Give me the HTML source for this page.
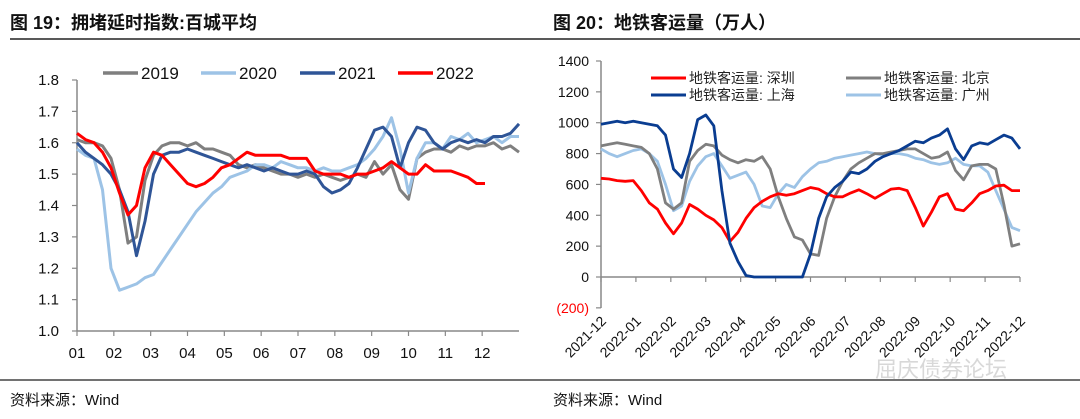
<!DOCTYPE html>
<html><head><meta charset="utf-8"><style>
body{margin:0;width:1080px;height:419px;background:#fff;overflow:hidden;font-family:"Liberation Sans","Noto Sans CJK SC",sans-serif;}
svg{position:absolute;left:0;top:0}
</style></head><body>
<svg width="1080" height="419" viewBox="0 0 1080 419" xmlns="http://www.w3.org/2000/svg">
<g id="static" font-family="Liberation Sans, Noto Sans CJK SC, sans-serif">
<text x="10" y="29" font-size="18" font-weight="bold" fill="#111">图 19：拥堵延时指数:百城平均</text>
<text x="553" y="29" font-size="18" font-weight="bold" fill="#111">图 20：地铁客运量（万人）</text>
<line x1="10" y1="39" x2="1080" y2="39" stroke="#222" stroke-width="1.5"/>
<line x1="0" y1="380" x2="1080" y2="380" stroke="#444" stroke-width="1.5"/>
<text x="10" y="405" font-size="15" fill="#111">资料来源：Wind</text>
<text x="553" y="405" font-size="15" fill="#111">资料来源：Wind</text>
<text x="875" y="377" font-size="22" fill="#c8c8c8" opacity="0.7">屈庆债券论坛</text>
</g>
<g id="left"></g>
<g id="right"></g>
</svg>
<script>
const NS="http://www.w3.org/2000/svg";
function mk(parent,tag,attrs,text){const e=document.createElementNS(NS,tag);for(const k in attrs)e.setAttribute(k,attrs[k]);if(text!==undefined)e.textContent=text;parent.appendChild(e);return e;}

// ---------- Left chart data ----------
const leftMonths=["01","02","03","04","05","06","07","08","09","10","11","12"];
const leftYTicks=[1.0,1.1,1.2,1.3,1.4,1.5,1.6,1.7,1.8];
const leftSeriesNames=["2019","2020","2021","2022"];
const y2019=[1.61,1.60,1.60,1.59,1.55,1.45,1.28,1.30,1.48,1.56,1.59,1.60,1.60,1.59,1.60,1.58,1.58,1.57,1.56,1.53,1.52,1.53,1.52,1.51,1.50,1.50,1.49,1.50,1.49,1.50,1.49,1.48,1.49,1.50,1.49,1.54,1.50,1.53,1.45,1.42,1.55,1.57,1.58,1.58,1.57,1.59,1.58,1.59,1.59,1.60,1.58,1.59,1.57];
const y2020=[1.58,1.56,1.55,1.45,1.20,1.13,1.14,1.15,1.17,1.18,1.22,1.26,1.30,1.34,1.38,1.41,1.44,1.46,1.49,1.50,1.51,1.53,1.53,1.52,1.54,1.53,1.52,1.52,1.51,1.52,1.51,1.51,1.52,1.53,1.55,1.58,1.62,1.68,1.58,1.44,1.55,1.60,1.60,1.58,1.62,1.61,1.63,1.60,1.61,1.62,1.60,1.62,1.62];
const y2021=[1.60,1.57,1.55,1.53,1.50,1.45,1.38,1.24,1.35,1.50,1.56,1.57,1.57,1.58,1.57,1.56,1.55,1.54,1.53,1.52,1.53,1.52,1.51,1.52,1.51,1.50,1.50,1.51,1.50,1.46,1.44,1.45,1.47,1.52,1.58,1.64,1.65,1.62,1.52,1.60,1.65,1.64,1.60,1.58,1.60,1.61,1.60,1.61,1.60,1.62,1.62,1.63,1.66];
const y2022=[1.63,1.61,1.60,1.57,1.52,1.44,1.37,1.40,1.52,1.57,1.56,1.53,1.50,1.47,1.46,1.47,1.49,1.52,1.53,1.55,1.57,1.56,1.56,1.56,1.56,1.55,1.55,1.55,1.51,1.50,1.50,1.50,1.49,1.50,1.50,1.51,1.52,1.54,1.52,1.50,1.50,1.53,1.51,1.51,1.51,1.50,1.49,1.47,1.47];

// ---------- Right chart data ----------
const rightMonths=["2021-12","2022-01","2022-02","2022-03","2022-04","2022-05","2022-06","2022-07","2022-08","2022-09","2022-10","2022-11","2022-12"];
const rightYTicks=[-200,0,200,400,600,800,1000,1200,1400];
const rightSeriesNames=["地铁客运量: 深圳","地铁客运量: 北京","地铁客运量: 上海","地铁客运量: 广州"];
const shenzhen=[640,635,625,620,625,560,480,440,350,280,350,470,440,400,370,320,230,290,380,450,490,520,540,530,540,560,580,570,540,520,520,545,565,540,510,540,570,575,560,450,330,420,520,540,440,430,480,540,560,590,595,560,560];
const beijing=[850,860,870,860,850,840,800,700,480,440,480,750,820,860,850,790,760,740,760,750,780,700,520,380,260,240,150,140,380,520,620,700,740,770,800,800,810,820,830,830,800,770,780,810,690,630,720,730,730,700,470,200,215];
const shanghai=[990,1000,1010,1000,1010,1000,990,980,920,700,645,800,1020,1050,980,560,220,100,10,0,0,0,0,0,0,0,150,380,520,580,620,680,670,700,750,780,800,820,850,880,870,900,920,960,830,760,850,870,860,890,920,900,830];
const guangzhou=[830,800,780,800,820,830,800,750,600,430,460,620,720,780,800,720,640,660,680,600,460,450,540,600,580,650,700,740,750,770,780,790,800,810,800,790,800,800,790,770,760,740,730,740,770,730,720,720,680,560,440,320,300,360];

// ---------- Left chart ----------
const L=document.getElementById('left');
const lx0=77,lx1=519,ly0=331,ly1=80;
const lxScale=w=>lx0+(lx1-lx0)*w/52;
const lyScale=v=>ly0-(v-1.0)/(0.8)*(ly0-ly1);
mk(L,'line',{x1:lx0,y1:ly1,x2:lx0,y2:ly0,stroke:'#888','stroke-width':1.5,});
mk(L,'line',{x1:lx0,y1:ly0,x2:lx1,y2:ly0,stroke:'#888','stroke-width':1.5,});
leftYTicks.forEach(t=>{const y=lyScale(t);
 mk(L,'line',{x1:lx0-5,y1:y,x2:lx0,y2:y,stroke:'#888','stroke-width':1.2});
 const e=mk(L,'text',{x:59,y:y+5,'font-size':15,'text-anchor':'end',fill:'#111'},t.toFixed(1));
 
 
});
leftMonths.forEach((m,i)=>{const x=lx0+(lx1-lx0)*i/12;
 mk(L,'line',{x1:x,y1:ly0,x2:x,y2:ly0+5,stroke:'#888','stroke-width':1.2});
 const e=mk(L,'text',{x:x,y:358,'font-size':15,'text-anchor':'middle',fill:'#111'},m);
 
 
});
const leftData=[y2019,y2020,y2021,y2022];
const leftColors=['#7f7f7f','#9dc3e6','#2f5597','#ff0000'];
leftData.forEach((arr,si)=>{
 const d=arr.map((v,i)=>(i?'L':'M')+lxScale(i).toFixed(1)+','+lyScale(v).toFixed(1)).join(' ');
 const p=mk(L,'path',{d:d,fill:'none',stroke:leftColors[si],'stroke-width':3,'stroke-linejoin':'round'});
 
 
});
const legX=[103,201,300,398];
leftSeriesNames.forEach((n,i)=>{
 const g=mk(L,'g',{});
 
 
 mk(g,'line',{x1:legX[i],y1:73,x2:legX[i]+35,y2:73,stroke:leftColors[i],'stroke-width':3.5});
 mk(g,'text',{x:legX[i]+38,y:79,'font-size':17,fill:'#111'},n);
});

// ---------- Right chart ----------
const R=document.getElementById('right');
const rx0=601,rx1=1020,rTop=61,rBot=308;
const ryScale=v=>277-v*(277-61)/1400;
const rxScale=i=>rx0+(rx1-rx0)*i/52;
mk(R,'line',{x1:rx0,y1:rTop,x2:rx0,y2:rBot,stroke:'#888','stroke-width':1.5,});
mk(R,'line',{x1:rx0,y1:ryScale(0),x2:rx1,y2:ryScale(0),stroke:'#888','stroke-width':1.5,});
rightYTicks.forEach(t=>{const y=ryScale(t);
 mk(R,'line',{x1:rx0-5,y1:y,x2:rx0,y2:y,stroke:'#888','stroke-width':1.2});
 const e=mk(R,'text',{x:589,y:y+5,'font-size':14,'text-anchor':'end',fill:t<0?'#ff0000':'#111'},t<0?'('+(-t)+')':String(t));
 
 
});
rightMonths.forEach((m,i)=>{const x=rx0+(rx1-rx0)*i/12;
 mk(R,'line',{x1:x,y1:277,x2:x,y2:282,stroke:'#888','stroke-width':1.2});
 const ax=x+6, ay=322;
 const e=mk(R,'text',{x:ax,y:ay,'font-size':14,'text-anchor':'end',fill:'#111',transform:'rotate(-45 '+ax+' '+ay+')'},m);
 
 
});
const rightData=[shenzhen,beijing,shanghai,guangzhou];
const rightColors=['#ff0000','#7f7f7f','#0a3d91','#9dc3e6'];
[3,1,0,2].forEach(si=>{
 const arr=rightData[si];
 const d=arr.slice(0,53).map((v,i)=>(i?'L':'M')+rxScale(i).toFixed(1)+','+ryScale(v).toFixed(1)).join(' ');
 const p=mk(R,'path',{d:d,fill:'none',stroke:rightColors[si],'stroke-width':2.8,'stroke-linejoin':'round'});
 
 
});
const rLeg=[[651,78],[846,78],[651,95],[846,95]];
rightSeriesNames.forEach((n,i)=>{
 const g=mk(R,'g',{});
 
 
 mk(g,'line',{x1:rLeg[i][0],y1:rLeg[i][1],x2:rLeg[i][0]+35,y2:rLeg[i][1],stroke:rightColors[i],'stroke-width':3});
 mk(g,'text',{x:rLeg[i][0]+38,y:rLeg[i][1]+5,'font-size':14,fill:'#222'},n);
});
</script>
</body></html>
